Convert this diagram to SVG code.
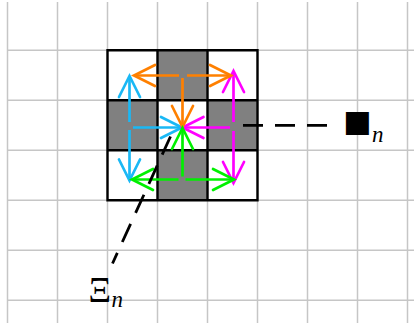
<svg xmlns="http://www.w3.org/2000/svg" width="414" height="327" viewBox="0 0 414 327">
<style>
.grid{stroke:#c6c6c6;stroke-width:1.5;fill:none}
.cell{fill:#808080}
.frame{stroke:#000;stroke-width:2.4;fill:none}
.arr{fill:none;stroke-width:2.7;stroke-linecap:butt}
.o{stroke:#ff8000;marker-end:url(#mo)}
.c{stroke:#1ab8f5;marker-end:url(#mc)}
.m{stroke:#ff00ff;marker-end:url(#mm)}
.g{stroke:#00f000;marker-end:url(#mg)}
.dash{stroke:#000;stroke-width:2.8;stroke-dasharray:20 12;fill:none}
.lbl{font-family:"Liberation Serif",serif;fill:#000}
.sub{font-family:"Liberation Serif",serif;font-style:italic;font-size:23px;fill:#000}
</style>
<defs>
<marker id="mo" markerUnits="userSpaceOnUse" orient="auto" refX="0" refY="0" markerWidth="30" markerHeight="30" overflow="visible"><path d="M-21,-10.5 L0,0 L-21,10.5" fill="none" stroke="#ff8000" stroke-width="2.7" stroke-linecap="round"/></marker>
<marker id="mc" markerUnits="userSpaceOnUse" orient="auto" refX="0" refY="0" markerWidth="30" markerHeight="30" overflow="visible"><path d="M-21,-10.5 L0,0 L-21,10.5" fill="none" stroke="#1ab8f5" stroke-width="2.7" stroke-linecap="round"/></marker>
<marker id="mm" markerUnits="userSpaceOnUse" orient="auto" refX="0" refY="0" markerWidth="30" markerHeight="30" overflow="visible"><path d="M-21,-10.5 L0,0 L-21,10.5" fill="none" stroke="#ff00ff" stroke-width="2.7" stroke-linecap="round"/></marker>
<marker id="mg" markerUnits="userSpaceOnUse" orient="auto" refX="0" refY="0" markerWidth="30" markerHeight="30" overflow="visible"><path d="M-21,-10.5 L0,0 L-21,10.5" fill="none" stroke="#00f000" stroke-width="2.7" stroke-linecap="round"/></marker>
</defs>
<g id="grid" class="grid">
<path d="M7.5,2V323M57.5,2V323M107.5,2V323M157.5,2V323M207.5,2V323M257.5,2V323M307.5,2V323M357.5,2V323M407.5,2V323"/>
<path d="M7,50.3H414M7,100.3H414M7,150.3H414M7,200.3H414M7,250.3H414M7,300.3H414"/>
</g>
<g id="board">
<rect class="cell" x="157.5" y="50.3" width="50" height="50"/>
<rect class="cell" x="107.5" y="100.3" width="50" height="50"/>
<rect class="cell" x="207.5" y="100.3" width="50" height="50"/>
<rect class="cell" x="157.5" y="150.3" width="50" height="50"/>
<path class="frame" d="M107.5,50.3H257.5V200.3H107.5Z M157.5,50.3V200.3 M207.5,50.3V200.3 M107.5,100.3H257.5 M107.5,150.3H257.5"/>
</g>
<g id="connectors">
<g id="cyan">
<path class="arr c" d="M129.5,122V76"/>
<path class="arr c" d="M129.5,130V180.5"/>
<path class="arr c" d="M133,127.5H182"/>
</g>
<g id="magenta">
<path class="arr m" d="M233.5,122V71"/>
<path class="arr m" d="M233.5,131V183"/>
<path class="arr m" d="M230,127.5H182.5"/>
</g>
<g id="orange">
<path class="arr o" d="M179,75.5H134"/>
<path class="arr o" d="M187,75.5H231"/>
<path class="arr o" d="M182.5,78V127"/>
</g>
<g id="green">
<path class="arr g" d="M178.5,179.5H132"/>
<path class="arr g" d="M185.5,179.5H234"/>
<path class="arr g" d="M182.5,176.5V128"/>
</g>
<path class="dash" d="M243,125.3H327"/>
<path class="dash" d="M170.5,136.5L112.5,263.5"/>
</g>
<g id="label-square">
<text class="lbl" x="343" y="130.5" style="font-family:'DejaVu Sans',sans-serif;font-size:30px">■</text>
<text class="sub" x="372" y="141.7">n</text>
</g>
<g id="label-xi">
<text class="lbl" x="88.5" y="302" font-size="35">Ξ</text>
<text class="sub" x="111.5" y="306.7">n</text>
</g>
</svg>
